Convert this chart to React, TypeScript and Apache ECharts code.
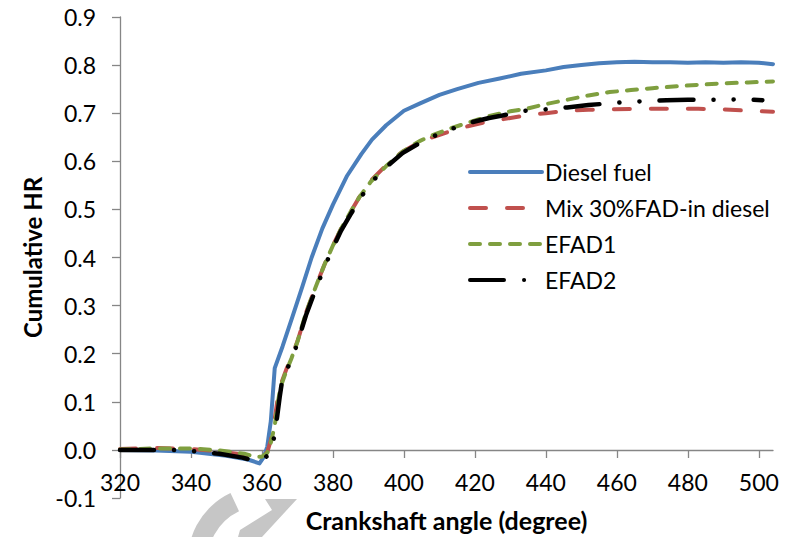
import React, { useEffect, useRef } from "react";
import * as echarts from "echarts";

const xTicks = [320, 340, 360, 380, 400, 420, 440, 460, 480, 500];

const seriesNames = ["Diesel fuel", "Mix 30%FAD-in diesel", "EFAD1", "EFAD2"];

const dieselAngle = [320, 330, 340, 350, 356, 359.3, 360.5, 361.5, 362.5, 363.2, 363.6, 365.8, 368.6, 371.4, 374, 377, 380, 384, 388, 391, 395, 400, 404.4, 410, 415, 421, 427, 433, 440, 445, 450, 455, 460, 465, 470, 475, 480, 485, 490, 495, 500, 504];
const dieselHR = [0.0, -0.001, -0.004, -0.012, -0.02, -0.028, -0.015, 0.007, 0.06, 0.13, 0.17, 0.215, 0.277, 0.34, 0.4, 0.46, 0.51, 0.57, 0.615, 0.645, 0.675, 0.705, 0.72, 0.738, 0.75, 0.763, 0.772, 0.782, 0.789, 0.796, 0.8, 0.804, 0.806, 0.807, 0.806, 0.806, 0.805, 0.806, 0.805, 0.806, 0.805, 0.802];

const mixAngle = [320, 330, 340, 348, 355, 358, 360, 361.5, 362.5, 363.5, 364.3, 365.5, 367, 368.5, 370.2, 372.4, 375.2, 377.6, 380, 382.3, 385, 387.4, 390.7, 395, 399.6, 404.4, 408, 413.7, 418, 424, 430, 435, 440, 446, 452, 464, 474, 483, 490, 495, 504];
const mixHR = [0.002, 0.004, 0.002, -0.003, -0.01, -0.016, -0.012, -0.005, 0.02, 0.06, 0.1, 0.14, 0.17, 0.195, 0.23, 0.285, 0.34, 0.385, 0.425, 0.46, 0.495, 0.525, 0.56, 0.592, 0.62, 0.64, 0.65, 0.664, 0.673, 0.683, 0.69, 0.696, 0.7, 0.705, 0.707, 0.709, 0.709, 0.709, 0.708, 0.706, 0.703];

const efad1Angle = [320, 330, 340, 348, 355, 358, 360, 361.5, 362.5, 363.6, 364.3, 365.2, 366.8, 368.3, 370, 372.4, 375.2, 377.6, 380, 382.3, 385, 387.4, 390.7, 395, 399.6, 404.4, 408, 413.7, 418, 424, 430, 435, 440, 446, 452, 458, 464, 470, 477, 483, 490, 497, 504];
const efad1HR = [0.001, 0.003, 0.003, -0.001, -0.008, -0.014, -0.014, -0.006, 0.015, 0.05, 0.09, 0.13, 0.163, 0.19, 0.225, 0.285, 0.34, 0.385, 0.425, 0.46, 0.495, 0.525, 0.558, 0.59, 0.62, 0.642, 0.654, 0.67, 0.68, 0.694, 0.704, 0.71, 0.719, 0.728, 0.737, 0.744, 0.748, 0.752, 0.756, 0.759, 0.762, 0.764, 0.766];

const efad2Angle = [320, 330, 337, 341.4, 348, 354.5, 357, 358.5, 360, 362, 363, 363.5, 364.3, 365, 365.7, 366.8, 368.2, 370, 372.4, 375.2, 377.6, 380, 382.3, 385, 387.4, 390.7, 395, 399.6, 404.4, 408, 413.7, 418.5, 424, 427, 434, 440, 446, 452, 462, 468, 474, 480, 490, 495, 501];
const efad2HR = [0.0, 0.0, 0.0, -0.003, -0.008, -0.016, -0.021, -0.022, -0.02, -0.01, 0.01, 0.03, 0.07, 0.11, 0.145, 0.165, 0.184, 0.222, 0.28, 0.335, 0.38, 0.42, 0.456, 0.49, 0.52, 0.555, 0.588, 0.617, 0.638, 0.651, 0.668, 0.68, 0.69, 0.694, 0.705, 0.708, 0.712, 0.717, 0.723, 0.725, 0.727, 0.728, 0.728, 0.729, 0.727];

const zip = (a: number[], b: number[]) => a.map((x, i) => [x, b[i]]);

const FONT = "Lato";

export default function App() {
  const ref = useRef<HTMLDivElement>(null);
  useEffect(() => {
    if (!ref.current) return;
    const chart = echarts.init(ref.current, undefined, { renderer: "svg" });
    const axisColor = "#868686";
    const common = { type: "line", symbol: "none", smooth: false, z: 3, xAxisIndex: 0, yAxisIndex: 0 } as any;
    chart.setOption({
      animation: false,
      backgroundColor: "#ffffff",
      textStyle: { fontFamily: FONT },
      grid: [
        { left: 120, right: 21, top: 17, bottom: 39, containLabel: false, outerBoundsMode: "none" },
        { left: 120, right: 21, top: 440, bottom: 87, containLabel: false, outerBoundsMode: "none" },
      ],
      legend: {
        orient: "vertical",
        left: 463,
        top: 155,
        itemWidth: 72,
        itemHeight: 14,
        itemGap: 12,
        data: seriesNames,
        itemStyle: { opacity: 0 },
        lineStyle: { width: 4, cap: "round" },
        textStyle: { fontFamily: FONT, fontSize: 23, color: "#000", lineHeight: 24, padding: [0, 0, 0, -2] },
      },
      xAxis: [
        {
          type: "value",
          gridIndex: 0,
          min: 320,
          max: 504,
          interval: 20,
          show: false,
          axisLine: { onZero: false },
          splitLine: { show: false },
        },
        {
          type: "value",
          gridIndex: 1,
          min: 320,
          max: 504,
          interval: 20,
          position: "bottom",
          name: "Crankshaft angle (degree)",
          nameLocation: "middle",
          nameGap: 57,
          nameTextStyle: { fontFamily: FONT, fontSize: 25, fontWeight: "bold", color: "#000" },
          axisLine: { show: true, onZero: false, lineStyle: { color: axisColor, width: 1.3 } },
          axisTick: { show: true, length: 8, lineStyle: { color: axisColor, width: 1.3 }, customValues: xTicks },
          axisLabel: { fontFamily: FONT, fontSize: 23, color: "#000", margin: 20, customValues: xTicks },
          splitLine: { show: false },
        },
      ],
      yAxis: [
        {
          type: "value",
          gridIndex: 0,
          min: -0.1,
          max: 0.9,
          interval: 0.1,
          name: "Cumulative HR",
          nameLocation: "middle",
          nameGap: 74,
          nameTextStyle: { fontFamily: FONT, fontSize: 24, fontWeight: "bold", color: "#000" },
          axisLine: { show: true, lineStyle: { color: axisColor, width: 1.3 } },
          axisTick: { show: true, length: 8, lineStyle: { color: axisColor, width: 1.3 } },
          axisLabel: {
            fontFamily: FONT,
            fontSize: 23,
            color: "#000",
            margin: 24,
            formatter: (v: number) => v.toFixed(1),
          },
          splitLine: { show: false },
        },
        {
          type: "value",
          gridIndex: 1,
          min: 0,
          max: 1,
          show: false,
          splitLine: { show: false },
        },
      ],
      graphic: [
        {
          type: "sector",
          z: 0,
          shape: { cx: 262, cy: 560, r: 74, r0: 54, startAngle: Math.PI * 0.95, endAngle: Math.PI * 1.36 },
          style: { fill: "#c6c6c6" },
        },
        {
          type: "polygon",
          z: 0,
          shape: { points: [[265, 499], [297, 499], [262, 537], [238, 537], [240, 530], [272, 510]] },
          style: { fill: "#c6c6c6" },
        },
      ],
      series: [
        {
          ...common,
          name: seriesNames[0],
          data: zip(dieselAngle, dieselHR),
          lineStyle: { color: "#4A7EBB", width: 4, cap: "round", join: "round" },
          itemStyle: { color: "#4A7EBB" },
        },
        {
          ...common,
          name: seriesNames[1],
          data: zip(mixAngle, mixHR),
          lineStyle: { color: "#C0504D", width: 4, type: [16, 21], cap: "round", join: "round" },
          itemStyle: { color: "#C0504D" },
        },
        {
          ...common,
          name: seriesNames[2],
          data: zip(efad1Angle, efad1HR),
          lineStyle: { color: "#7F9F3F", width: 4, type: [10, 10], cap: "round", join: "round" },
          itemStyle: { color: "#7F9F3F" },
        },
        {
          ...common,
          name: seriesNames[3],
          data: zip(efad2Angle, efad2HR),
          lineStyle: { color: "#000000", width: 4.5, type: [34, 20, 0.1, 20, 0.1, 20], cap: "round", join: "round" },
          itemStyle: { color: "#000000" },
        },
      ],
    });
    return () => chart.dispose();
  }, []);
  return <div ref={ref} style={{ width: 794, height: 537, position: "absolute", left: 0, top: 0 }} />;
}
